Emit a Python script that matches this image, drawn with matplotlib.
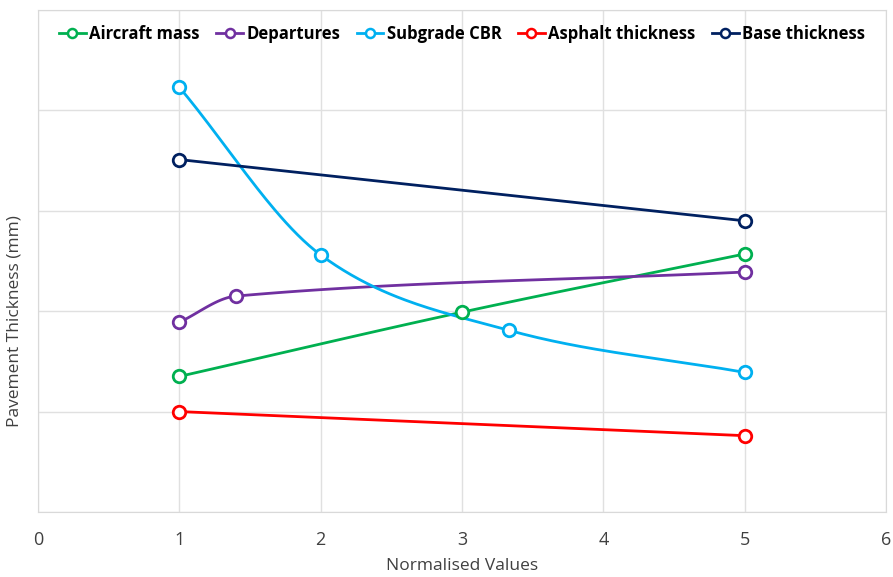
import numpy as np
import matplotlib.pyplot as plt

# values (y axis has no labels, gridline = 1 unit)
aircraft_x = [1, 3, 5]
aircraft_y = [1.35, 1.99, 2.57]
departures_x = [1, 1.4, 5]
departures_y = [1.89, 2.15, 2.39]
cbr_x = [1, 2, 3.33, 5]
cbr_y = [4.23, 2.56, 1.81, 1.39]
asphalt_x = [1, 5]
asphalt_y = [1.0, 0.76]
base_x = [1, 5]
base_y = [3.51, 2.90]

series = [
    ("Aircraft mass", aircraft_x, aircraft_y, "#00B050"),
    ("Departures", departures_x, departures_y, "#7030A0"),
    ("Subgrade CBR", cbr_x, cbr_y, "#00B0F0"),
    ("Asphalt thickness", asphalt_x, asphalt_y, "#FF0000"),
    ("Base thickness", base_x, base_y, "#002060"),
]


def smooth(xs, ys, n=50):
    # smoothed line through the points (cubic hermite in x)
    x = np.asarray(xs, float)
    y = np.asarray(ys, float)
    if len(x) < 3:
        return x, y
    m = np.empty_like(y)
    m[0] = (y[1] - y[0]) / (x[1] - x[0])
    m[-1] = (y[-1] - y[-2]) / (x[-1] - x[-2])
    m[1:-1] = (y[2:] - y[:-2]) / (x[2:] - x[:-2])
    sx, sy = [], []
    for i in range(len(x) - 1):
        h = x[i + 1] - x[i]
        t = np.linspace(0, 1, n)
        h00 = 2 * t ** 3 - 3 * t ** 2 + 1
        h10 = t ** 3 - 2 * t ** 2 + t
        h01 = -2 * t ** 3 + 3 * t ** 2
        h11 = t ** 3 - t ** 2
        sx.append(x[i] + t * h)
        sy.append(h00 * y[i] + h10 * h * m[i] + h01 * y[i + 1] + h11 * h * m[i + 1])
    return np.concatenate(sx), np.concatenate(sy)


plt.rcParams['font.family'] = ['Open Sans', 'DejaVu Sans']

fig = plt.figure(figsize=(8.93, 5.77), dpi=100)
ax = fig.add_axes([0.0426, 0.1127, 0.9496, 0.87])

for name, xs, ys, col in series:
    sx, sy = smooth(xs, ys)
    ax.plot(sx, sy, color=col, lw=2, zorder=3)
    ax.plot(xs, ys, 'o', ms=9, mfc='white', mec=col, mew=2, zorder=4)
    ax.plot([], [], '-o', color=col, lw=2, ms=6.5, mfc='white', mec=col, mew=1.8, label=name)

ax.set_xlim(0, 6)
ax.set_ylim(0, 5)
ax.set_xticks(range(7))
ax.set_yticks(range(6))
ax.set_yticklabels([])
ax.tick_params(length=0, labelsize=13, colors='#404040')
ax.tick_params(axis='x', pad=14)
ax.grid(True, color='#E0E0E0', lw=1)
for s in ax.spines.values():
    s.set_color('#D9D9D9')
ax.set_axisbelow(True)

ax.set_xlabel('Normalised Values', fontsize=12.5, color='#404040', labelpad=6)
ax.set_ylabel('Pavement Thickness (mm)', fontsize=12.5, color='#404040')
ax.yaxis.set_label_coords(-0.018, 0.38)

leg = ax.legend(loc='upper center', ncol=5, frameon=False, bbox_to_anchor=(0.5, 1.0),
                handlelength=1.6, handletextpad=0.2, columnspacing=1.0,
                prop={'weight': 'bold', 'size': 12})

fig.savefig('out.png', dpi=100)
